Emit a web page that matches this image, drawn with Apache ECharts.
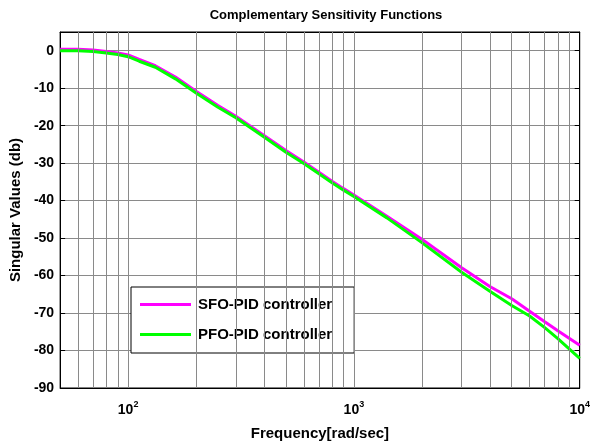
<!DOCTYPE html>
<html><head><meta charset="utf-8">
<script src="https://cdn.jsdelivr.net/npm/echarts@6/dist/echarts.min.js"></script>
<style>html,body{margin:0;padding:0;background:#fff}#c{width:593px;height:446px}</style>
</head><body><div id="c"></div>
<script>
const freq = [50,60,70,80,90,100,112,132,162,200,250,300,400,500,600,700,800,900,1000,1400,2000,3000,4000,5000,6000,7000,8000,10000];
const sfo  = [0.4,0.4,0.2,-0.2,-0.6,-1.1,-2.3,-4.0,-7.0,-10.8,-14.6,-17.5,-22.6,-26.6,-29.7,-32.4,-34.8,-36.8,-38.5,-44.2,-50.3,-57.9,-62.9,-66.2,-69.5,-72.3,-74.7,-78.6];
const pfo  = [0.0,0.0,-0.2,-0.6,-1.0,-1.6,-2.8,-4.4,-7.5,-11.3,-15.1,-17.9,-23.0,-27.1,-30.1,-32.8,-35.2,-37.2,-38.9,-44.6,-51.2,-59.1,-64.2,-68.0,-70.8,-73.9,-76.8,-82.1];
const xGrid = [60,70,80,90,100,200,300,400,500,600,700,800,900,1000,2000,3000,4000,5000,6000,7000,8000,9000];
const seriesNames = ['SFO-PID controller','PFO-PID controller'];

const FONT = 'Liberation Sans, Arial, sans-serif';
const chart = echarts.init(document.getElementById('c'), null, {renderer:'canvas'});
function logLabel(v){
  const e = Math.log10(v);
  if (Math.abs(e - Math.round(e)) < 1e-6) return '{b|10}{s|' + Math.round(e) + '}';
  return '';
}
chart.setOption({
  animation:false,
  backgroundColor:'#fff',
  title:{text:'Complementary Sensitivity Functions', left:321, top:4, textAlign:'center',
    textStyle:{fontFamily:FONT, fontWeight:'bold', fontSize:13, color:'#000'}},
  grid:{left:58, right:9, top:32, bottom:55, show:true, borderColor:'#000', borderWidth:1},
  legend:{
    data:seriesNames, orient:'vertical', left:131, top:287,
    backgroundColor:'#fff', borderColor:'#000', borderWidth:1,
    padding:[10,22,11,9], itemGap:15, itemWidth:51, itemHeight:3, icon:'rect',
    textStyle:{fontFamily:FONT, fontWeight:'bold', fontSize:15, color:'#000', padding:[0,0,0,2]}
  },
  xAxis:[{
    type:'log', logBase:10, min:50, max:10000,
    name:'Frequency[rad/sec]', nameLocation:'middle', nameGap:38,
    nameTextStyle:{fontFamily:FONT, fontWeight:'bold', fontSize:15, color:'#000'},
    axisLine:{onZero:false, lineStyle:{color:'#000', width:1}},
    axisTick:{inside:true, length:5, lineStyle:{color:'#000'}},
    splitLine:{show:false},
    axisLabel:{margin:12, formatter:logLabel, color:'#000',
      rich:{b:{fontFamily:FONT, fontWeight:'bold', fontSize:14, color:'#000'},
            s:{fontFamily:FONT, fontWeight:'bold', fontSize:9, color:'#000', padding:[0,0,11,0]}}}
  },{
    type:'log', logBase:10, min:50, max:10000, position:'top',
    axisLine:{onZero:false, lineStyle:{color:'#000'}}, axisTick:{inside:true, length:5, lineStyle:{color:'#000'}},
    axisLabel:{show:false}, splitLine:{show:false}
  }],
  yAxis:[{
    type:'value', min:-90, max:5, interval:10,
    name:'Singular Values (db)', nameLocation:'middle', nameGap:34,
    nameTextStyle:{fontFamily:FONT, fontWeight:'bold', fontSize:15, color:'#000'},
    axisLine:{show:true, onZero:false, lineStyle:{color:'#000', width:1}},
    axisTick:{show:true, inside:true, length:5, lineStyle:{color:'#000'}},
    splitLine:{show:true, lineStyle:{color:'#8a8a8a', width:1}},
    axisLabel:{fontFamily:FONT, fontWeight:'bold', fontSize:14, color:'#000', margin:6,
      formatter:function(v){return v % 10 === 0 ? String(v) : '';}}
  },{
    type:'value', min:-90, max:5, interval:10, position:'right',
    axisLine:{show:true, onZero:false, lineStyle:{color:'#000'}},
    axisTick:{show:true, inside:true, length:5, lineStyle:{color:'#000'}},
    axisLabel:{show:false}, splitLine:{show:false}
  }],
  series:[
    {name:'grid', type:'line', data:[], z:1, silent:true,
      markLine:{silent:true, symbol:['none','none'], label:{show:false},
        lineStyle:{color:'#8a8a8a', width:1, type:'solid'},
        data:xGrid.map(function(v){return {xAxis:v};})}},
    {name:seriesNames[0], type:'line', showSymbol:false, z:3,
      color:'#ff00ff', lineStyle:{width:3, color:'#ff00ff'},
      data:freq.map(function(f,i){return [f, sfo[i]];})},
    {name:seriesNames[1], type:'line', showSymbol:false, z:4,
      color:'#00ff00', lineStyle:{width:3, color:'#00ff00'},
      data:freq.map(function(f,i){return [f, pfo[i]];})}
  ]
});
</script></body></html>
